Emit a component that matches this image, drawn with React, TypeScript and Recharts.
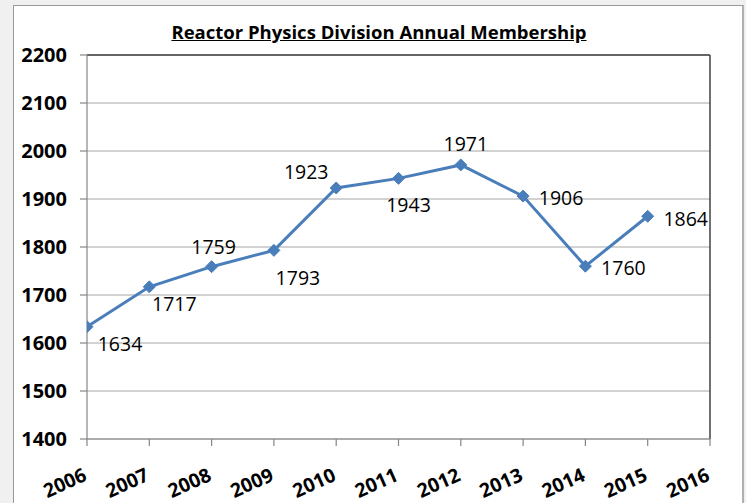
import React from 'react';
import { LineChart, Line, XAxis, YAxis, CartesianGrid, ReferenceLine } from 'recharts';

const years = [2006, 2007, 2008, 2009, 2010, 2011, 2012, 2013, 2014, 2015];
const members = [1634, 1717, 1759, 1793, 1923, 1943, 1971, 1906, 1760, 1864];
const xTicks = [2006, 2007, 2008, 2009, 2010, 2011, 2012, 2013, 2014, 2015, 2016];
const yTicks = [1400, 1500, 1600, 1700, 1800, 1900, 2000, 2100, 2200];
// label placement relative to point (dx, dy of label centre)
const labelOffsets: [number, number][] = [
  [33, 17], [25, 17], [2, -20], [24, 27], [-30, -16],
  [10, 26], [5, -21], [38, 1], [38, 1], [38, 2],
];

const data = years.map((y, i) => ({ year: y, value: members[i] }));

const FONT = "'Open Sans', 'Liberation Sans', sans-serif";
const LINE = '#4a7ebb';

const Diamond = (props: any) => {
  const { cx, cy } = props;
  if (cx == null || cy == null) return null;
  const r = 6;
  return (
    <polygon
      points={`${cx},${cy - r} ${cx + r},${cy} ${cx},${cy + r} ${cx - r},${cy}`}
      fill={LINE}
      stroke={LINE}
      strokeWidth={1}
    />
  );
};

const PointLabel = (props: any) => {
  const { x, y, index, value } = props;
  const off = labelOffsets[index] || [0, -15];
  return (
    <text
      x={x + off[0]}
      y={y + off[1]}
      textAnchor="middle"
      dominantBaseline="central"
      fontFamily={FONT}
      fontSize={19.5}
      fill="#000"
    >
      {value}
    </text>
  );
};

const XTick = (props: any) => {
  const { x, y, payload } = props;
  return (
    <g transform={`translate(${x},${y})`}>
      <text
        x={1}
        y={32}
        textAnchor="end"
        transform="rotate(-24 1 32)"
        fontFamily={FONT}
        fontWeight="bold"
        fontSize={19.5}
        fill="#000"
      >
        {payload.value}
      </text>
    </g>
  );
};

export default function App() {
  return (
    <div style={{ position: 'absolute', left: 0, top: 0, width: 746, height: 503, background: '#f0f0f0', overflow: 'hidden' }}>
      <div
        style={{
          position: 'absolute',
          left: 13,
          top: 5,
          width: 728,
          height: 520,
          background: '#fff',
          border: '1px solid #9a9a9a',
          borderRight: '2px solid #b0b0b0',
        }}
      />
      <div
        style={{
          position: 'absolute',
          left: 0,
          top: 19,
          width: 746,
          textAlign: 'center',
          fontFamily: FONT,
          fontWeight: 'bold',
          fontSize: 18.5,
          textDecoration: 'underline',
          color: '#000',
          paddingLeft: 12,
          boxSizing: 'border-box',
        }}
      >
        Reactor Physics Division Annual Membership
      </div>
      <div style={{ position: 'absolute', left: 0, top: 0 }}>
        <LineChart width={746} height={503} data={data} margin={{ top: 55, right: 36, bottom: 14, left: 27 }}>
          <CartesianGrid vertical={false} stroke="#a6a6a6" strokeWidth={1.2} />
          <XAxis
            dataKey="year"
            type="number"
            domain={[2006, 2016]}
            ticks={xTicks}
            interval={0}
            stroke="#868686"
            strokeWidth={1.2}
            tickSize={7}
            tick={<XTick />}
            height={50}
            allowDataOverflow
          />
          <YAxis
            domain={[1400, 2200]}
            ticks={yTicks}
            interval={0}
            stroke="#868686"
            strokeWidth={1.2}
            tickSize={7}
            tickMargin={13}
            width={60}
            tick={{ fill: '#000', fontFamily: FONT, fontWeight: 'bold', fontSize: 20 }}
          />
          <ReferenceLine y={2200} stroke="#404040" strokeWidth={1.5} />
          <ReferenceLine x={2016} stroke="#404040" strokeWidth={1.5} />
          <Line
            type="linear"
            dataKey="value"
            stroke={LINE}
            strokeWidth={3}
            dot={<Diamond />}
            activeDot={false}
            isAnimationActive={false}
            label={<PointLabel />}
          />
        </LineChart>
      </div>
    </div>
  );
}
